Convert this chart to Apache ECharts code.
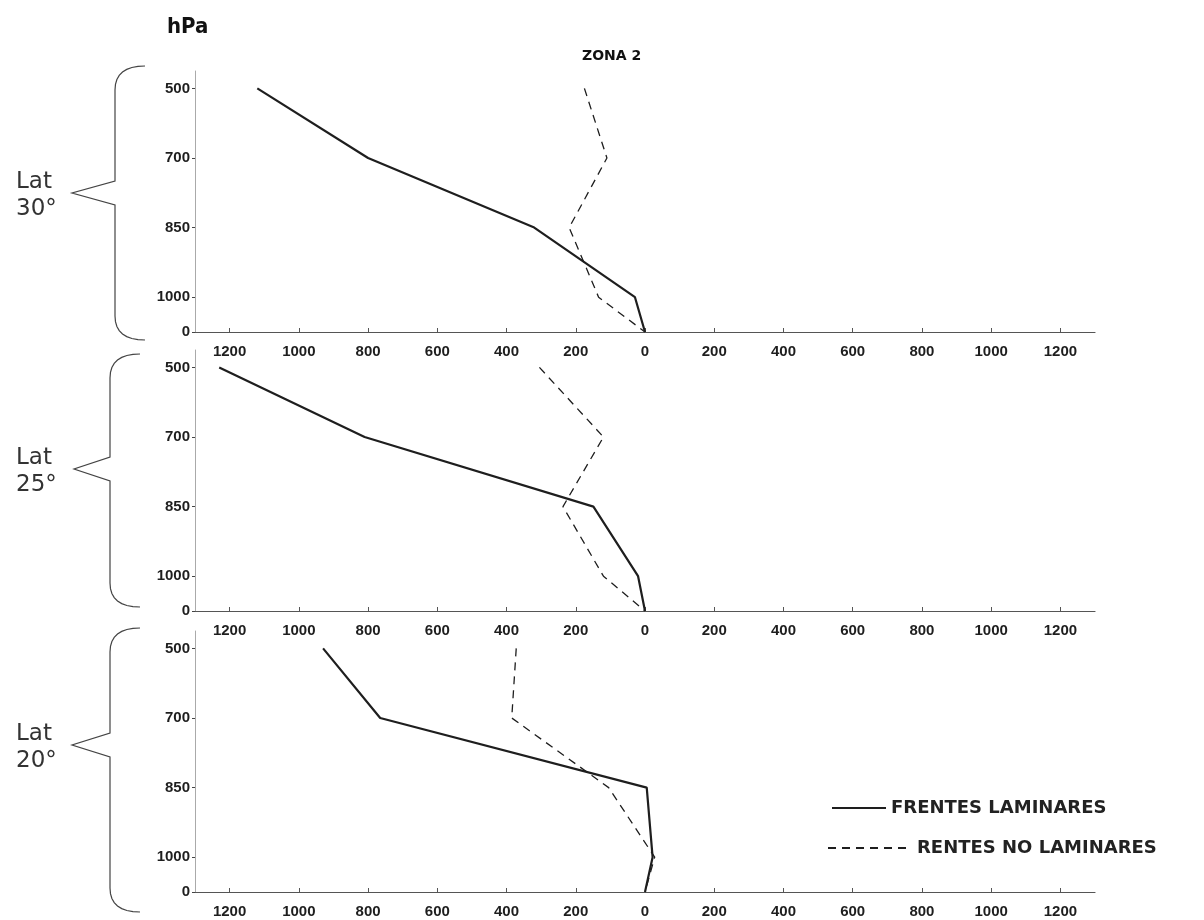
<!DOCTYPE html>
<html>
<head>
<meta charset="utf-8">
<script src="https://cdn.jsdelivr.net/npm/echarts@6/dist/echarts.min.js"></script>
<style>
html,body{margin:0;padding:0;background:#fff;}
#chart{width:1204px;height:920px;}
</style>
</head>
<body>
<div id="chart"></div>
<script>
// ---- data ----
const levels = ['500', '700', '850', '1000', '0'];          // hPa levels, top to bottom
const xTicks = [-1200, -1000, -800, -600, -400, -200, 0, 200, 400, 600, 800, 1000, 1200];
const seriesNames = ['FRENTES LAMINARES', 'RENTES NO LAMINARES'];
const panelLabels = ['Lat\n30°', 'Lat\n25°', 'Lat\n20°'];

const lat30Laminar   = [-1120, -800, -320, -29, 0];
const lat30NoLaminar = [-175, -110, -219, -134, 0];
const lat25Laminar   = [-1230, -810, -149, -20, 0];
const lat25NoLaminar = [-305, -120, -237, -120, 0];
const lat20Laminar   = [-930, -765, 5, 22, 0];
const lat20NoLaminar = [-372, -385, -105, 28, 0];

// ---- scale for the pressure axis (the 0 row sits half a step below 1000) ----
const gapsFromBottom = [0.5, 1, 1, 1]; // 0->1000, 1000->850, 850->700, 700->500
function levelPos(i) { // i index into levels (0 = top)
  let p = 0;
  for (let k = levels.length - 1; k > i; k--) p += gapsFromBottom[levels.length - 1 - k];
  return p;
}
const levelPositions = levels.map((_, i) => levelPos(i));
function posToLabel(v) {
  for (let i = 0; i < levels.length; i++) if (Math.abs(levelPositions[i] - v) < 1e-6) return levels[i];
  return '';
}

const panels = [
  [lat30Laminar, lat30NoLaminar],
  [lat25Laminar, lat25NoLaminar],
  [lat20Laminar, lat20NoLaminar]
];

const gridTops = [71, 350, 631];
const gridH = 261;
const font = 'Liberation Sans';
const ink = '#1e1e1e';

const grids = [], xAxes = [], yAxes = [], series = [];
panels.forEach((pair, g) => {
  grids.push({ left: 195, top: gridTops[g], width: 900, height: gridH, containLabel: false });
  xAxes.push({
    type: 'value', gridIndex: g, min: -1300, max: 1300,
    axisLine: { show: true, onZero: false, lineStyle: { color: '#555', width: 1.2 } },
    axisTick: { show: true, customValues: xTicks, length: 4, inside: true, lineStyle: { color: '#555' } },
    axisLabel: { customValues: xTicks, formatter: v => String(Math.abs(v)), color: ink,
      fontFamily: font, fontWeight: 'bold', fontSize: 15, margin: 12 },
    splitLine: { show: false }
  });
  yAxes.push({
    type: 'value', gridIndex: g, min: 0, max: 3.75,
    axisLine: { show: true, onZero: false, lineStyle: { color: '#aaa', width: 1 } },
    axisTick: { show: true, customValues: levelPositions, length: 3, lineStyle: { color: '#444' } },
    axisLabel: { customValues: levelPositions, formatter: v => posToLabel(v), color: ink,
      fontFamily: font, fontWeight: 'bold', fontSize: 15, margin: 5 },
    splitLine: { show: false }
  });
  pair.forEach((vals, s) => {
    series.push({
      name: seriesNames[s], type: 'line', xAxisIndex: g, yAxisIndex: g,
      data: vals.map((v, i) => [v, levelPositions[i]]),
      symbol: 'none', smooth: false, silent: true,
      lineStyle: s === 0
        ? { color: ink, width: 2.2, type: 'solid' }
        : { color: ink, width: 1.3, type: [8, 6] },
      itemStyle: { color: ink }
    });
  });
});

// braces on the left with latitude labels
const braceDefs = [
  { top: 66, bottom: 340, tip: 193, xv: 115, xt: 72 },
  { top: 354, bottom: 607, tip: 469, xv: 110, xt: 74 },
  { top: 628, bottom: 912, tip: 745, xv: 110, xt: 72 }
];
function curvePts(x0, y0, cx, cy, x1, y1) {
  const pts = [];
  for (let t = 0; t <= 1.0001; t += 0.125) {
    const a = (1 - t) * (1 - t), b = 2 * (1 - t) * t, c = t * t;
    pts.push([a * x0 + b * cx + c * x1, a * y0 + b * cy + c * y1]);
  }
  return pts;
}
const graphics = [];
braceDefs.forEach((b, i) => {
  const pts = []
    .concat(curvePts(b.xv + 30, b.top, b.xv, b.top, b.xv, b.top + 24))
    .concat([[b.xv, b.tip - 12], [b.xt, b.tip], [b.xv, b.tip + 12], [b.xv, b.bottom - 24]])
    .concat(curvePts(b.xv, b.bottom - 24, b.xv, b.bottom, b.xv + 30, b.bottom));
  graphics.push({ type: 'polyline', shape: { points: pts },
    style: { fill: null, stroke: '#444', lineWidth: 1.2 } });
  graphics.push({ type: 'text', left: 16, top: b.tip - 24,
    style: { text: panelLabels[i], font: '23px "DejaVu Sans"', fill: '#333', lineHeight: 27, align: 'left' } });
});
graphics.push({ type: 'text', left: 167, top: 16,
  style: { text: 'hPa', font: 'bold 22px "DejaVu Sans Condensed", "DejaVu Sans"', fill: '#111' } });
graphics.push({ type: 'text', left: 582, top: 49,
  style: { text: 'ZONA 2', font: 'bold 14px "DejaVu Sans"', fill: '#111' } });

const legendText = { fontFamily: 'DejaVu Sans', fontWeight: 'bold', fontSize: 18, color: '#222' };
const chart = echarts.init(document.getElementById('chart'), null, { renderer: 'canvas' });
chart.setOption({
  animation: false,
  backgroundColor: '#fff',
  grid: grids,
  xAxis: xAxes,
  yAxis: yAxes,
  legend: [
    { data: [seriesNames[0]], left: 826, top: 794, itemWidth: 54, itemHeight: 14, selectedMode: false,
      itemStyle: { color: 'rgba(0,0,0,0)', borderWidth: 0 }, textStyle: legendText },
    { data: [seriesNames[1]], left: 822, top: 834, itemWidth: 84, itemHeight: 14, selectedMode: false,
      itemStyle: { color: 'rgba(0,0,0,0)', borderWidth: 0 }, textStyle: legendText }
  ],
  graphic: graphics,
  series: series
});
</script>
</body>
</html>
